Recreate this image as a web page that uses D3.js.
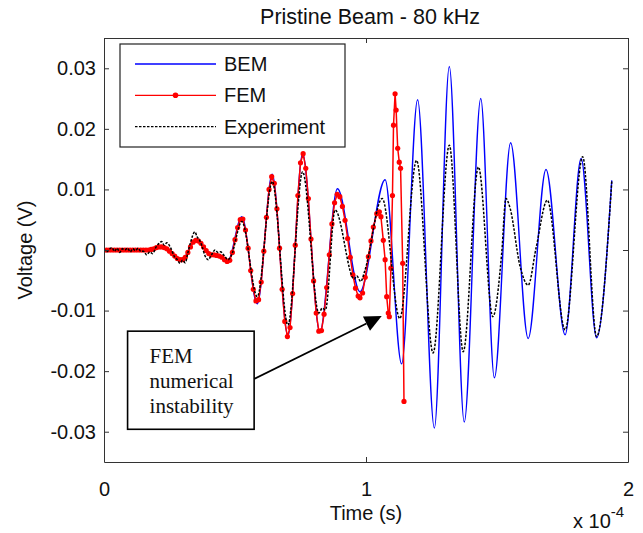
<!DOCTYPE html>
<html>
<head>
<meta charset="utf-8">
<script src="https://cdn.jsdelivr.net/npm/d3@7"></script>
<style>
  body { margin: 0; background: #fff; }
  svg { display: block; font-family: "Liberation Sans", Arial, sans-serif; }
  .axis path, .axis line { stroke: #333; stroke-width: 1; }
  .axis text { font-size: 20px; fill: #111; font-family: "Liberation Sans", Arial, sans-serif; }
</style>
</head>
<body>
<svg id="chart" width="643" height="533"></svg>
<script>
// time in microseconds (axis shows x 10^-4 s), voltage in V
var titleText = "Pristine Beam - 80 kHz";
var xTicks = [0, 100, 200];
var yTicks = [-0.03, -0.02, -0.01, 0, 0.01, 0.02, 0.03];
var seriesNames = ["BEM", "FEM", "Experiment"];

// BEM - turning points
var bemT = [0, 15, 17, 22.0, 29.7, 35.1, 41.1, 44.0, 47.2, 52.6, 58.5, 64.2, 70.2, 75.8, 82.4, 89.1,
            97.7, 107.3, 113.6, 119.7, 126.1, 131.8, 137.5, 143.8, 149.0, 155.2, 161.9, 168.7, 176.0,
            182.1, 188.0, 193.8];
var bemV = [0, 0, 0, 0.0005, -0.0016, 0.0016, -0.0008, -0.0010, -0.0019, 0.0055, -0.0089, 0.0125,
            -0.0142, 0.0159, -0.0136, 0.0101, -0.0069, 0.0116, -0.0188, 0.0248, -0.0294, 0.0303,
            -0.0284, 0.0250, -0.0211, 0.0177, -0.0146, 0.0133, -0.0140, 0.0151, -0.0145, 0.0115];

// FEM - sample points (dots)
var femT = [0, 1, 2, 3, 4, 5, 6, 7, 8, 9, 10, 11, 12, 13, 14, 15, 16, 17, 18, 19,
            20, 21, 22, 23, 24, 25, 26, 27, 28, 29, 30, 31, 32, 33, 34, 35, 36, 37, 38, 39,
            40, 41, 42, 43, 44, 45, 46, 47, 48, 49, 50, 51, 52, 53, 54, 55, 56, 57, 58, 59,
            60, 61, 62, 63, 64, 65, 66, 67, 68, 69, 70, 71, 72, 73, 74, 75, 76, 77, 78, 79,
            80, 81, 82, 83, 84, 85, 86, 87, 88, 89, 90, 91, 92, 93, 94, 95, 96, 97,
            97.7, 98.7, 99.7, 100.9, 101.9, 102.8, 104.1, 105.1, 105.7, 106.6, 107.3, 107.9,
            108.5, 108.9, 109.5, 110.1, 110.5, 111.1, 111.5, 112.1, 112.7, 113.2, 114.0, 114.5];
var femV = [0, 0, 0, 0, 0, 0, 0, 0, 0, 0, 0, 0, 0, 0, 0, 0, 0, 0, 0.0001, 0.0002,
            0.0004, 0.0005, 0.0005, 0.0004, 0.0002, -0.0002, -0.0006, -0.0010, -0.0014, -0.0016,
            -0.0016, -0.0012, -0.0004, 0.0005, 0.0013, 0.0016, 0.0015, 0.0011, 0.0005, -0.0001,
            -0.0006, -0.0008, -0.0008, -0.0009, -0.0010, -0.0012, -0.0016, -0.0019, -0.0017, -0.0004,
            0.0017, 0.0037, 0.0050, 0.0051, 0.0033, 0.0003, -0.0034, -0.0065, -0.0084, -0.0082,
            -0.0053, -0.0002, 0.0054, 0.0100, 0.0121, 0.0110, 0.0068, 0.0003, -0.0065, -0.0118,
            -0.0143, -0.0128, -0.0072, 0.0008, 0.0090, 0.0144, 0.0159, 0.0135, 0.0085, 0.0018,
            -0.0051, -0.0104, -0.0134, -0.0133, -0.0106, -0.0062, -0.0008, 0.0043, 0.0078, 0.0092,
            0.0088, 0.0072, 0.0049, 0.0019, -0.0012, -0.0041, -0.0063, -0.0076,
            -0.0079, -0.0071, -0.0045, -0.0011, 0.0015, 0.0038, 0.0060, 0.0063, 0.0055, 0.0016,
            -0.0016, -0.0077, -0.0104, -0.0110, -0.0030, 0.0090, 0.0206, 0.0258, 0.0231, 0.0168,
            0.0145, 0.0135, -0.0022, -0.0250];

// Experiment
var expT = [0, 1, 2, 3, 4, 5, 6, 7, 8, 9, 10, 11, 12, 13, 14, 15,
            16.3, 17.5, 18.5, 20, 21, 22, 23, 24, 25.5, 27, 28, 29, 30, 31, 32, 33, 34.7, 35.5,
            36.5, 37.5, 38.5, 39.8, 41, 42.4, 43.5, 44.5, 46, 47.4, 48.5,
            52.6, 58.5, 64.2, 70.2, 75.8, 82.0, 83.3, 84.5, 88.2,
            95.5, 96.5, 98, 99.5,
            106.2, 112.9, 119.3, 125.6, 131.8, 137.1, 142.9, 148.4,
            151.8, 153.4, 155, 158.8, 161.9, 164.9, 169.2, 176.0, 182.7, 188.0, 193.8];
var expV = [0.0002, -0.0003, 0.0001, 0.0004, -0.0002, 0.0003, -0.0004, 0.0002, 0.0000, 0.0003,
            -0.0003, 0.0002, -0.0001, 0.0003, -0.0002, -0.0002,
            -0.0008, -0.0003, -0.0006, 0.0006, 0.0011, 0.0014, 0.0008, 0.0012, 0.0003, -0.0012,
            -0.0016, -0.0022, -0.0017, -0.0021, -0.0005, 0.0012, 0.0030, 0.0022, 0.0016, 0.0005,
            -0.0009, -0.0016, -0.0008, 0.0000, -0.0004, -0.0003, -0.0010, -0.0016, -0.0010,
            0.0047, -0.0077, 0.0113, -0.0124, 0.0129, -0.0104, -0.0096, -0.0099, 0.0066,
            -0.0048, -0.0043, -0.0052, -0.0035,
            0.0085, -0.0113, 0.0148, -0.0170, 0.0173, -0.0168, 0.0137, -0.0110,
            -0.0005, 0.0085, 0.0069, -0.0027, -0.0058, 0.0003, 0.0082, -0.0132, 0.0154, -0.0143, 0.0113];

// annotation (data coords)
var noteLines = ["FEM", "numerical", "instability"];
var noteTip = [106.0, -0.0109];

function pairs(ts, vs){
	var n = Math.min(ts.length, vs.length), out = [];
	for (var i = 0; i < n; i++) out.push({t: ts[i], v: vs[i]});
	return out;
}

var svg = d3.select("#chart"),
	margin = {top: 38, right: 15, bottom: 71, left: 104},
	width = 643 - margin.left - margin.right,
	height = 533 - margin.top - margin.bottom,
	g = svg.append("g").attr("transform", "translate(" + margin.left + "," + margin.top + ")");

var x = d3.scaleLinear().domain([0, 200]).range([0, width]);
var y = d3.scaleLinear().domain([-0.035, 0.035]).range([height, 0]);

g.append("clipPath").attr("id", "plotclip")
	.append("rect").attr("width", width).attr("height", height);

var plot = g.append("g").attr("clip-path", "url(#plotclip)");

var smooth = d3.line().x(function(d){ return x(d.t); }).y(function(d){ return y(d.v); })
	.curve(d3.curveMonotoneX);
var straight = d3.line().x(function(d){ return x(d.t); }).y(function(d){ return y(d.v); });

var bem = pairs(bemT, bemV), fem = pairs(femT, femV), exp = pairs(expT, expV);

plot.append("path").datum(bem)
	.attr("fill", "none").attr("stroke", "#0000ff").attr("stroke-width", 1.4)
	.attr("d", smooth);

plot.append("path").datum(fem)
	.attr("fill", "none").attr("stroke", "#ff0000").attr("stroke-width", 1.5)
	.attr("d", straight);
plot.append("g").selectAll("circle").data(fem).enter().append("circle")
	.attr("cx", function(d){ return x(d.t); })
	.attr("cy", function(d){ return y(d.v); })
	.attr("r", 2.6)
	.attr("fill", "#ff0000");

plot.append("path").datum(exp)
	.attr("fill", "none").attr("stroke", "#000").attr("stroke-width", 1.5)
	.attr("stroke-dasharray", "2.5,1.5")
	.attr("d", smooth);

// axes, ticks pointing inwards on all four sides
g.append("g").attr("class", "axis")
	.attr("transform", "translate(0," + height + ")")
	.call(d3.axisBottom(x).tickValues(xTicks).tickSize(-5).tickSizeOuter(0).tickPadding(20)
		.tickFormat(function(d){ return d / 100; }));
g.append("g").attr("class", "axis")
	.call(d3.axisTop(x).tickValues(xTicks).tickSize(-5).tickSizeOuter(0).tickFormat(""));
g.append("g").attr("class", "axis")
	.call(d3.axisLeft(y).tickValues(yTicks).tickSize(-5).tickSizeOuter(0).tickPadding(8)
		.tickFormat(function(d){ return d === 0 ? "0" : d3.format(".2f")(d).replace("−", "-"); }));
g.append("g").attr("class", "axis")
	.attr("transform", "translate(" + width + ",0)")
	.call(d3.axisRight(y).tickValues(yTicks).tickSize(-5).tickSizeOuter(0).tickFormat(""));

// titles
svg.append("text").attr("x", margin.left + width / 2 + 4).attr("y", 24)
	.attr("text-anchor", "middle").attr("font-size", 21.5).attr("fill", "#111")
	.text(titleText);
svg.append("text").attr("x", margin.left + width / 2).attr("y", 520)
	.attr("text-anchor", "middle").attr("font-size", 20).attr("fill", "#111")
	.text("Time (s)");
svg.append("text").attr("transform", "translate(32," + (margin.top + y(0)) + ") rotate(-90)")
	.attr("text-anchor", "middle").attr("font-size", 20).attr("fill", "#111")
	.text("Voltage (V)");
var mult = svg.append("text").attr("x", 573).attr("y", 528).attr("font-size", 20).attr("fill", "#111");
mult.append("tspan").text("x 10");
mult.append("tspan").attr("dy", -11).attr("font-size", 15).text("-4");

// annotation box + arrow
var box = {x0: 9.0, x1: 57.3, y0: -0.0134, y1: -0.0296};
var note = g.append("g");
note.append("rect")
	.attr("x", x(box.x0)).attr("y", y(box.y0))
	.attr("width", x(box.x1) - x(box.x0)).attr("height", y(box.y1) - y(box.y0))
	.attr("fill", "#fff").attr("stroke", "#000").attr("stroke-width", 1.6);
note.selectAll("text").data(noteLines).enter().append("text")
	.attr("x", x(box.x0) + 22)
	.attr("y", function(d, i){ return y(box.y0) + 32 + i * 25; })
	.attr("font-family", "'Liberation Serif', 'Times New Roman', serif")
	.attr("font-size", 21).attr("fill", "#111")
	.text(function(d){ return d; });

var ax0 = x(box.x1), ay0 = y(-0.0213),
	ax1 = x(noteTip[0]), ay1 = y(noteTip[1]);
var ang = Math.atan2(ay1 - ay0, ax1 - ax0), headLen = 17, headW = 8;
var bx = ax1 - headLen * Math.cos(ang), by = ay1 - headLen * Math.sin(ang);
note.append("line").attr("x1", ax0).attr("y1", ay0).attr("x2", bx).attr("y2", by)
	.attr("stroke", "#000").attr("stroke-width", 1.8);
note.append("path")
	.attr("d", "M" + ax1 + "," + ay1 +
		"L" + (bx + headW * Math.sin(ang)) + "," + (by - headW * Math.cos(ang)) +
		"L" + (bx - headW * Math.sin(ang)) + "," + (by + headW * Math.cos(ang)) + "Z")
	.attr("fill", "#000");

// legend
var leg = g.append("g").attr("transform", "translate(" + (120 - margin.left) + "," + (44 - margin.top) + ")");
leg.append("rect").attr("width", 225).attr("height", 103)
	.attr("fill", "#fff").attr("stroke", "#222").attr("stroke-width", 1.2);
var colors = ["#0000ff", "#ff0000", "#000"];
var items = leg.selectAll("g.item").data(seriesNames).enter().append("g")
	.attr("class", "item")
	.attr("transform", function(d, i){ return "translate(0," + (20 + i * 31.3) + ")"; });
items.append("line").attr("x1", 15).attr("x2", 96).attr("y1", 0).attr("y2", 0)
	.attr("stroke", function(d, i){ return colors[i]; })
	.attr("stroke-width", function(d, i){ return i === 2 ? 1.1 : 1.3; })
	.attr("stroke-dasharray", function(d, i){ return i === 2 ? "2.5,1.5" : null; });
items.filter(function(d, i){ return i === 1; }).append("circle")
	.attr("cx", 55.5).attr("cy", 0).attr("r", 2.8).attr("fill", "#ff0000");
items.append("text").attr("x", 104).attr("dy", "0.35em")
	.attr("font-size", 20).attr("fill", "#111")
	.text(function(d){ return d; });
</script>
</body>
</html>
